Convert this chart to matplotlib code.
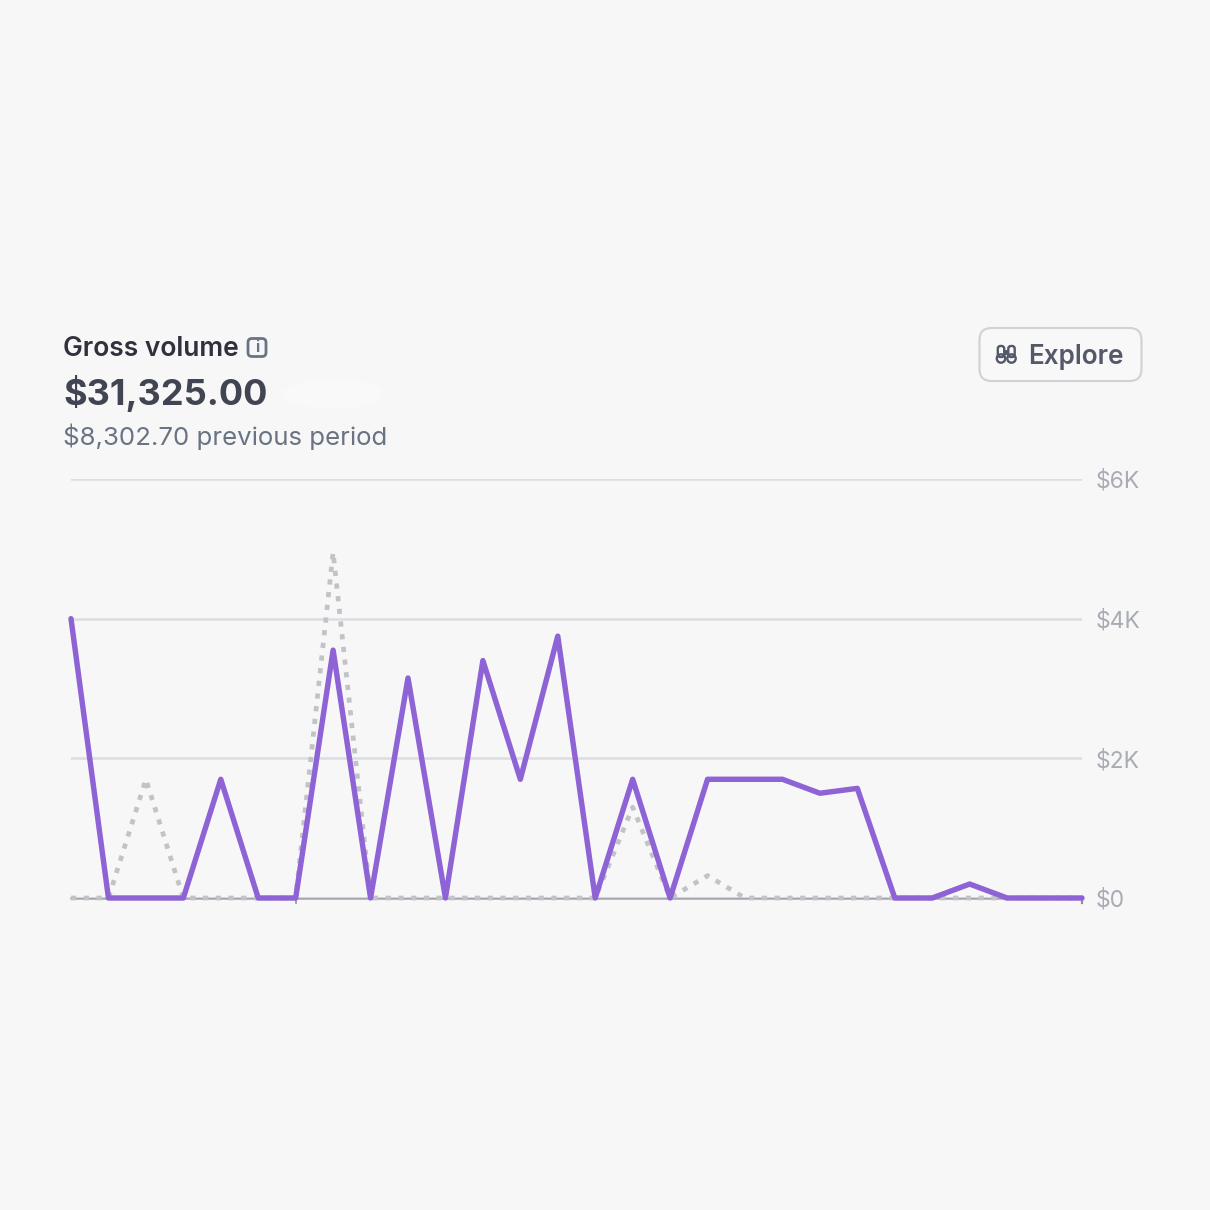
import matplotlib
matplotlib.use("Agg")
import matplotlib.pyplot as plt
from matplotlib.patches import FancyBboxPatch, Circle, Rectangle, Ellipse
from matplotlib.transforms import ScaledTranslation

current = [4000, 0, 0, 0, 1700, 0, 0, 3550, 0, 3150, 0, 3400, 1700, 3750, 0, 1700, 0,
           1700, 1700, 1700, 1500, 1570, 0, 0, 200, 0, 0, 0]
previous = [0, 0, 1700, 0, 0, 0, 0, 4950, 0, 0, 0, 0, 0, 0, 0, 1300, 0,
            320, 0, 0, 0, 0, 0, 0, 0, 0, 0, 0]
y_ticks = [0, 2000, 4000, 6000]
y_labels = ["$0", "$2K", "$4K", "$6K"]
title = "Gross volume"
total = "$31,325.00"
subtitle = "$8,302.70 previous period"
button = "Explore"

W = H = 1210
BG = "#f7f7f7"
plt.rcParams["font.family"] = ["Inter", "DejaVu Sans"]
fig = plt.figure(figsize=(W / 100, H / 100), dpi=100, facecolor=BG)

# overlay in pixel coordinates (origin at top-left)
ov = fig.add_axes([0, 0, 1, 1], zorder=3)
ov.set_xlim(0, W); ov.set_ylim(H, 0); ov.axis("off"); ov.patch.set_alpha(0)

L, R, T, B = 71, 1082, 479, 898
ax = fig.add_axes([L / W, 1 - B / H, (R - L) / W, (B - T) / H], facecolor="none", zorder=2)
x = list(range(len(current)))
ax.set_xlim(0, len(current) - 1)
ax.set_ylim(0, 6000)
for s in ax.spines.values():
    s.set_visible(False)
ax.set_xticks([])
ax.yaxis.tick_right()
ax.set_yticks(y_ticks)
ax.set_yticklabels(y_labels, color="#a9acb4", fontsize=16.5)
ax.tick_params(axis="y", length=0, pad=10)
shift = ScaledTranslation(0, -2.5 / 100, fig.dpi_scale_trans)
for lab in ax.get_yticklabels():
    lab.set_verticalalignment("center")
    lab.set_transform(lab.get_transform() + shift)
ax.grid(axis="y", color="#dcdde2", lw=1.8, zorder=0)
ax.grid(axis="x", visible=False)
ax.axhline(0, color="#a5a6ad", lw=1.8, zorder=1, clip_on=False)
ax.plot(x, previous, color="#c2c3c7", lw=3.4, ls=(0, (1.1, 1.6)), zorder=2, clip_on=False)
ax.plot(x, current, color="#8d63d6", lw=3.9, solid_joinstyle="round", solid_capstyle="round",
        zorder=3, clip_on=False)
ax.plot([6, 6], [0, -75], color="#8f9098", lw=1.2, clip_on=False, zorder=1)
ax.plot([27, 27], [0, -75], color="#8f9098", lw=1.6, clip_on=False, zorder=1)

# header texts
ov.text(63, 349, title, fontsize=19, fontweight="semibold", color="#30313d", va="center", ha="left")
ov.text(63, 394, total, fontsize=26, fontweight="bold", color="#414552", va="center", ha="left")
ov.text(63, 437, subtitle, fontsize=18.6, color="#6a7383", va="center", ha="left")

# info icon
ov.add_patch(FancyBboxPatch((248, 338.5), 18, 18, boxstyle="round,pad=0,rounding_size=4",
                            fc="none", ec="#6a7383", lw=2))
ov.text(257, 348, "i", fontsize=11, fontweight="bold", color="#6a7383", ha="center", va="center")

# faint smudge
ov.add_patch(Ellipse((333, 394), 100, 30, fc="#f9f9f9", ec="none"))

# button
ov.add_patch(FancyBboxPatch((979.5, 328), 162, 53, boxstyle="round,pad=0,rounding_size=12",
                            fc="#f8f8f8", ec="#d0d1d6", lw=1.5))
ov.text(1028, 356.5, button, fontsize=18.8, fontweight="semibold", color="#545969", va="center", ha="left")
# binoculars icon
ic = "#545969"
for cx in (1001, 1011.5):
    ov.add_patch(Circle((cx, 358.5), 4.2, fc="none", ec=ic, lw=1.7))
    ov.add_patch(FancyBboxPatch((cx - 3.2, 346), 6.4, 11, boxstyle="round,pad=0,rounding_size=2.6",
                                fc="none", ec=ic, lw=1.7))
ov.add_patch(Rectangle((1003.5, 350), 5.5, 5, fc=ic, ec="none"))

fig.savefig("out.png", dpi=100, facecolor=BG)
